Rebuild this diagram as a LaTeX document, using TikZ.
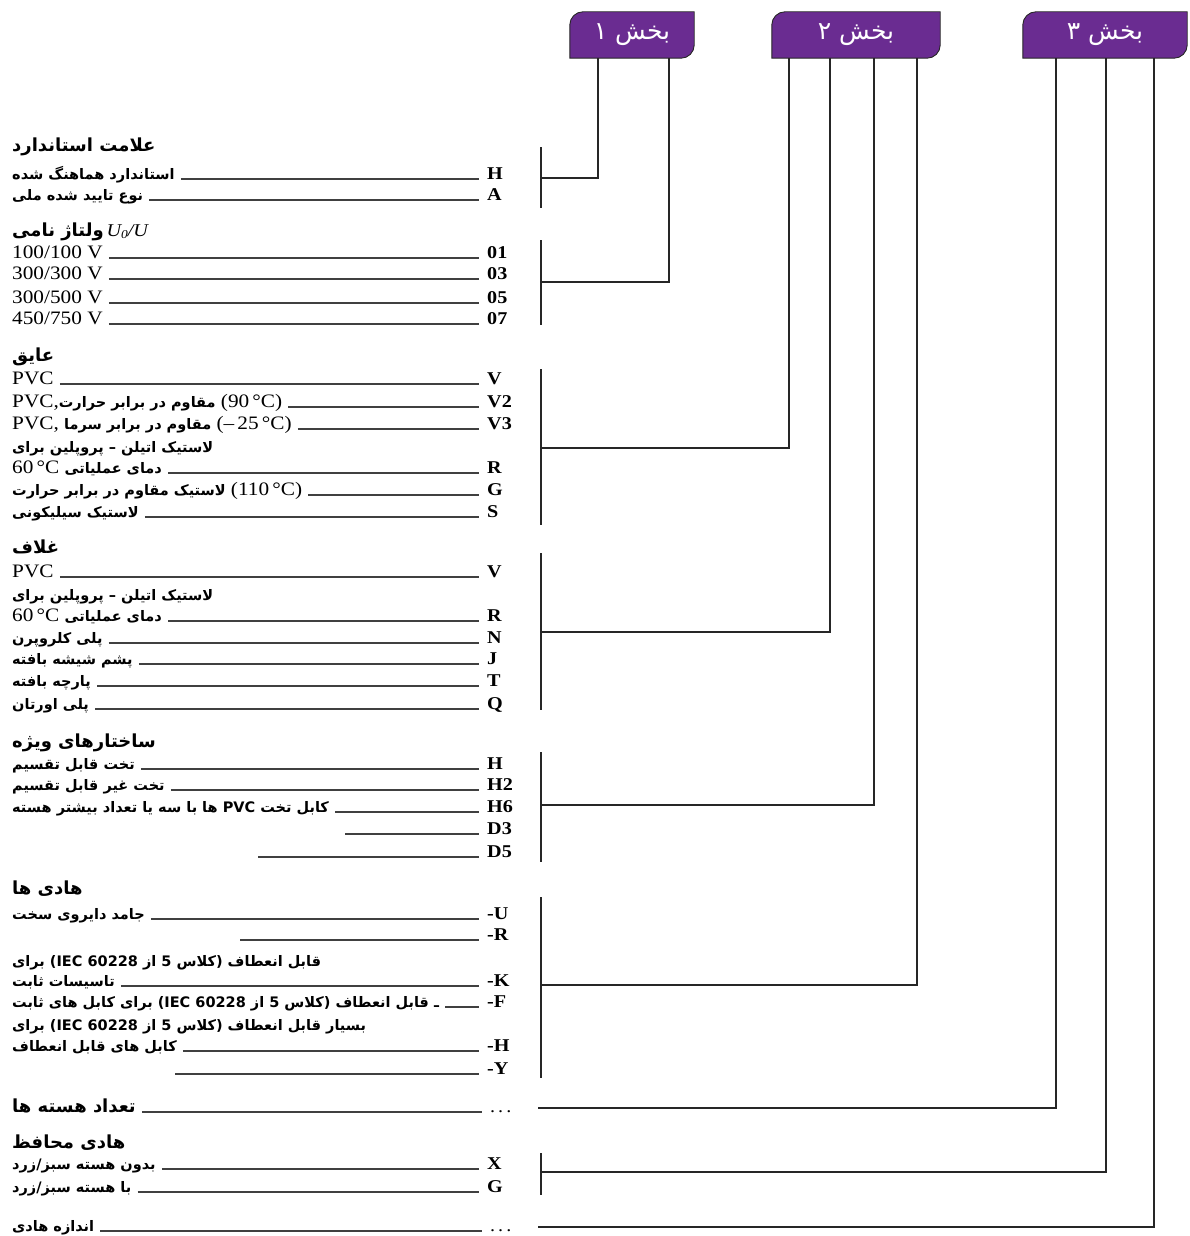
\documentclass[tikz,border=0pt]{standalone}
\usepackage{fontspec}
\setmainfont{Liberation Serif}[FakeStretch=1.12]
\newfontfamily\farsi[Script=Arabic]{DejaVu Sans}
\TeXXeTstate=1
\usetikzlibrary{calc,backgrounds}
\definecolor{tabpurple}{RGB}{106,44,145}
\newcommand\fa[1]{{\farsi\bfseries\fontsize{14.5}{16}\selectfont\beginR #1\endR}}
\newcommand\fh[1]{{\farsi\bfseries\fontsize{18}{20}\selectfont\beginR #1\endR}}
\newcommand\tabbg[1]{%
  \filldraw[fill=tabpurple,draw=black!85,line width=0.9pt]
    (#1.south west) -- ($(#1.north west)+(0,13)$)
    .. controls ($(#1.north west)+(0,6)$) and ($(#1.north west)+(6,0)$) .. ($(#1.north west)+(13,0)$)
    -- (#1.north east) -- ($(#1.south east)+(0,-13)$)
    .. controls ($(#1.south east)+(0,-6)$) and ($(#1.south east)+(-6,0)$) .. ($(#1.south east)+(-13,0)$) -- cycle;}
\tikzset{
  lbl/.style={anchor=base west,inner sep=0pt,font=\fontsize{19}{21}\selectfont},
  head/.style={anchor=base west,inner sep=0pt},
  code/.style={anchor=base west,inner sep=0pt,font=\fontsize{18}{20}\selectfont\bfseries},
  leader/.style={line width=1.2pt,draw=black!75,shorten <=6pt,shorten >=8pt},
  wire/.style={line width=1.5pt,draw=black!85},
  brk/.style={line width=1.8pt,draw=black!85},
  tabnode/.style={inner sep=0pt,minimum height=46pt,text=white,font=\farsi\fontsize{25}{27}\selectfont}
}
\begin{document}
\begin{tikzpicture}[x=1pt,y=-1pt]
\useasboundingbox (0,0) rectangle (1189,1236);
% tabs
\node[tabnode,minimum width=124pt] (tab1) at (632,35) {\beginR بخش ۱\endR};
\node[tabnode,minimum width=168pt] (tab2) at (856,35) {\beginR بخش ۲\endR};
\node[tabnode,minimum width=164pt] (tab3) at (1105,35) {\beginR بخش ۳\endR};
\begin{scope}[on background layer]
\tabbg{tab1}\tabbg{tab2}\tabbg{tab3}
\end{scope}

% ---- standard mark
\node[head] (h1) at (12,151) {\fh{علامت استاندارد}};
\node[lbl] (t1) at (12,179) {\fa{استاندارد هماهنگ شده}};
\node[code] (c1) at (487,179) {H};
\node[lbl] (t2) at (12,200) {\fa{نوع تایید شده ملی}};
\node[code] (c2) at (487,200) {A};
% ---- voltage
\node[head] (h2) at (12,236) {\fh{ولتاژ نامی} {\fontsize{18}{20}\selectfont\itshape U\raisebox{-0.3ex}{\fontsize{12}{13}\selectfont 0}/U}};
\node[lbl] (t3) at (12,258) {100/100 V};  \node[code] (c3) at (487,258) {01};
\node[lbl] (t4) at (12,279) {300/300 V};  \node[code] (c4) at (487,279) {03};
\node[lbl] (t5) at (12,303) {300/500 V};  \node[code] (c5) at (487,303) {05};
\node[lbl] (t6) at (12,324) {450/750 V};  \node[code] (c6) at (487,324) {07};
% ---- insulation
\node[head] (h3) at (12,361) {\fh{عایق}};
\node[lbl] (t7) at (12,384) {PVC};  \node[code] (c7) at (487,384) {V};
\node[lbl] (t8) at (12,407) {PVC,\fa{مقاوم در برابر حرارت} (90\,°C)};  \node[code] (c8) at (487,407) {V2};
\node[lbl] (t9) at (12,429) {PVC, \fa{مقاوم در برابر سرما} (–\,25\,°C)};  \node[code] (c9) at (487,429) {V3};
\node[lbl] (t10a) at (12,452) {\fa{لاستیک اتیلن – پروپلین برای}};
\node[lbl] (t10) at (12,473) {60\,°C \fa{دمای عملیاتی}};  \node[code] (c10) at (487,473) {R};
\node[lbl] (t11) at (12,495) {\fa{لاستیک مقاوم در برابر حرارت} (110\,°C)};  \node[code] (c11) at (487,495) {G};
\node[lbl] (t12) at (12,517) {\fa{لاستیک سیلیکونی}};  \node[code] (c12) at (487,517) {S};
% ---- sheath
\node[head] (h4) at (12,553) {\fh{غلاف}};
\node[lbl] (t13) at (12,577) {PVC};  \node[code] (c13) at (487,577) {V};
\node[lbl] (t14a) at (12,600) {\fa{لاستیک اتیلن – پروپلین برای}};
\node[lbl] (t14) at (12,621) {60\,°C \fa{دمای عملیاتی}};  \node[code] (c14) at (487,621) {R};
\node[lbl] (t15) at (12,643) {\fa{پلی کلروپرن}};  \node[code] (c15) at (487,643) {N};
\node[lbl] (t16) at (12,664) {\fa{پشم شیشه بافته}};  \node[code] (c16) at (487,664) {J};
\node[lbl] (t17) at (12,686) {\fa{پارچه بافته}};  \node[code] (c17) at (487,686) {T};
\node[lbl] (t18) at (12,709) {\fa{پلی اورتان}};  \node[code] (c18) at (487,709) {Q};
% ---- special constructions
\node[head] (h5) at (12,747) {\fh{ساختارهای ویژه}};
\node[lbl] (t19) at (12,769) {\fa{تخت قابل تقسیم}};  \node[code] (c19) at (487,769) {H};
\node[lbl] (t20) at (12,790) {\fa{تخت غیر قابل تقسیم}};  \node[code] (c20) at (487,790) {H2};
\node[lbl] (t21) at (12,812) {\fa{کابل تخت \beginL PVC\endL{} ها با سه یا تعداد بیشتر هسته}};  \node[code] (c21) at (487,812) {H6};
\coordinate (t22) at (345,834);  \node[code] (c22) at (487,834) {D3};
\coordinate (t23) at (258,857);  \node[code] (c23) at (487,857) {D5};
% ---- conductors
\node[head] (h6) at (12,894) {\fh{هادی ها}};
\node[lbl] (t24) at (12,919) {\fa{جامد دایروی سخت}};  \node[code] (c24) at (487,919) {-U};
\coordinate (t25) at (240,940);  \node[code] (c25) at (487,940) {-R};
\node[lbl] (t26a) at (12,966) {\fa{قابل انعطاف (کلاس 5 از \beginL IEC 60228\endL) برای}};
\node[lbl] (t26) at (12,986) {\fa{تاسیسات ثابت}};  \node[code] (c26) at (487,986) {-K};
\node[lbl] (t27) at (12,1007) {\fa{ـ قابل انعطاف (کلاس 5 از \beginL IEC 60228\endL) برای کابل های ثابت}};  \node[code] (c27) at (487,1007) {-F};
\node[lbl] (t28a) at (12,1030) {\fa{بسیار قابل انعطاف (کلاس 5 از \beginL IEC 60228\endL) برای}};
\node[lbl] (t28) at (12,1051) {\fa{کابل های قابل انعطاف}};  \node[code] (c28) at (487,1051) {-H};
\coordinate (t29) at (175,1074);  \node[code] (c29) at (487,1074) {-Y};
% ---- number of cores
\node[lbl] (t30) at (12,1112) {\fh{تعداد هسته ها}};  \node[code] (c30) at (490,1112) {\mdseries .\,.\,.};
% ---- protective conductor
\node[head] (h7) at (12,1148) {\fh{هادی محافظ}};
\node[lbl] (t31) at (12,1169) {\fa{بدون هسته سبز/زرد}};  \node[code] (c31) at (487,1169) {X};
\node[lbl] (t32) at (12,1192) {\fa{با هسته سبز/زرد}};  \node[code] (c32) at (487,1192) {G};
% ---- conductor size
\node[lbl] (t33) at (12,1231) {\fa{اندازه هادی}};  \node[code] (c33) at (490,1231) {\mdseries .\,.\,.};

% leaders
\foreach \i in {1,...,21,24,26,27,28,30,31,32,33}
  \draw[leader] (t\i.base east) -- (c\i.base west);
\foreach \i in {22,23,25,29}
  \draw[leader,shorten <=0pt] (t\i) -- (c\i.base west);

% brackets
\draw[brk] (541,147) -- (541,208);
\draw[brk] (541,240) -- (541,325);
\draw[brk] (541,369) -- (541,525);
\draw[brk] (541,553) -- (541,710);
\draw[brk] (541,752) -- (541,862);
\draw[brk] (541,897) -- (541,1078);
\draw[brk] (541,1153) -- (541,1195);

% joins
\coordinate (j1) at (541,178);
\coordinate (j2) at (541,282);
\coordinate (j3) at (541,448);
\coordinate (j4) at (541,632);
\coordinate (j5) at (541,805);
\coordinate (j6) at (541,985);
\coordinate (j7) at (538,1108);
\coordinate (j8) at (541,1172);
\coordinate (j9) at (538,1227);

\draw[wire] ($(tab1.south west)+(28,0)$) |- (j1);
\draw[wire] ($(tab1.south west)+(99,0)$) |- (j2);
\draw[wire] ($(tab2.south west)+(17,0)$) |- (j3);
\draw[wire] ($(tab2.south west)+(58,0)$) |- (j4);
\draw[wire] ($(tab2.south west)+(102,0)$) |- (j5);
\draw[wire] ($(tab2.south west)+(145,0)$) |- (j6);
\draw[wire] ($(tab3.south west)+(33,0)$) |- (j7);
\draw[wire] ($(tab3.south west)+(83,0)$) |- (j8);
\draw[wire] ($(tab3.south west)+(131,0)$) |- (j9);
\end{tikzpicture}
\end{document}
